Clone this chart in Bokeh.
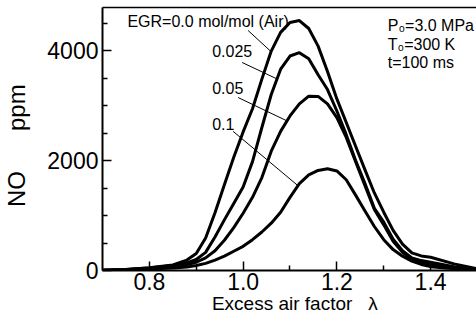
import numpy as np
from bokeh.plotting import figure
from bokeh.models import Range1d, LinearAxis, FixedTicker
from bokeh.core.properties import value
from bokeh.embed import file_html
from bokeh.resources import INLINE

# ---- data ----
lam = [0.70, 0.75, 0.80, 0.85, 0.88, 0.90, 0.92, 0.94, 0.96, 0.98,
       1.00, 1.02, 1.04, 1.06, 1.08, 1.10, 1.12, 1.14, 1.16, 1.18,
       1.20, 1.22, 1.24, 1.26, 1.28, 1.30, 1.32, 1.34, 1.36, 1.38,
       1.40, 1.45, 1.50]
no_egr0 = [5, 20, 50, 100, 190, 310, 590, 1050, 1560, 2060,
           2520, 2940, 3480, 3990, 4330, 4510, 4545, 4400, 4080, 3620,
           3120, 2690, 2260, 1830, 1410, 1060, 730, 480, 320, 265,
           240, 120, 30]
no_egr025 = [5, 20, 45, 90, 140, 200, 330, 610, 920, 1220,
             1520, 1980, 2600, 3200, 3660, 3900, 3960, 3850, 3560, 3290,
             2900, 2470, 2000, 1580, 1130, 880, 570, 360, 230, 180,
             150, 70, 15]
no_egr05 = [5, 15, 40, 75, 110, 150, 230, 360, 550, 780,
            1040, 1330, 1690, 2170, 2530, 2810, 3030, 3170, 3165, 3030,
            2780, 2420, 1980, 1540, 1110, 830, 530, 330, 200, 140,
            100, 50, 8]
no_egr1 = [5, 10, 25, 45, 65, 90, 130, 190, 260, 350,
           440, 560, 700, 860, 1060, 1330, 1580, 1740, 1820, 1850,
           1810, 1650, 1370, 1080, 800, 560, 380, 260, 170, 110,
           70, 30, 5]
series = [no_egr0, no_egr025, no_egr05, no_egr1]
series_labels = ["EGR=0.0 mol/mol (Air)", "0.025", "0.05", "0.1"]
x_ticks = [0.8, 1.0, 1.2, 1.4]
x_tick_labels = ["0.8", "1.0", "1.2", "1.4"]
x_minor = [0.9, 1.1, 1.3]
y_ticks = [0, 2000, 4000]
y_tick_labels = ["0", "2000", "4000"]
y_minor = [500, 1000, 1500, 2500, 3000, 3500, 4500]
conditions = ["P\u2080=3.0 MPa", "T\u2080=300 K", "t=100 ms"]

FONT = "Liberation Sans"

p = figure(width=476, height=322, output_backend="svg", toolbar_location=None,
           x_range=Range1d(0.7, 1.4979), y_range=Range1d(0, 4782),
           min_border_left=101, min_border_right=0, min_border_top=7,
           min_border_bottom=52, background_fill_color="white",
           border_fill_color="white", outline_line_color=None)
p.xgrid.grid_line_color = None
p.ygrid.grid_line_color = None

for ax in (p.xaxis[0], p.yaxis[0]):
    ax.axis_line_width = 2
    ax.axis_line_color = "black"
    ax.major_tick_in = 9
    ax.major_tick_out = 0
    ax.minor_tick_in = 5
    ax.minor_tick_out = 0
    ax.major_tick_line_width = 1.5
    ax.minor_tick_line_width = 1.5
    ax.major_tick_line_color = "black"
    ax.minor_tick_line_color = "black"
    ax.major_label_text_font = FONT
    ax.major_label_text_font_size = "23px"
    ax.major_label_text_color = "black"
    ax.axis_label_text_font = FONT
    ax.axis_label_text_font_style = "normal"
    ax.axis_label_text_color = "black"

p.xaxis.ticker = FixedTicker(ticks=x_ticks, minor_ticks=x_minor)
p.xaxis.major_label_overrides = {t: s for t, s in zip(x_ticks, x_tick_labels)}
p.yaxis.ticker = FixedTicker(ticks=y_ticks, minor_ticks=y_minor)
p.yaxis.major_label_overrides = {t: s for t, s in zip(y_ticks, y_tick_labels)}
p.xaxis.major_label_standoff = 2
p.xaxis.axis_label = "\u00a0\u00a0Excess air factor\u00a0\u00a0\u00a0\u03bb"
p.xaxis.axis_label_text_font_size = "19px"
p.xaxis.axis_label_standoff = 0
p.yaxis.major_label_standoff = 4
p.yaxis.axis_label = "NO" + "\u00a0" * 6 + "ppm" + "\u00a0\u00a0"
p.yaxis.axis_label_text_font_size = "24px"
p.yaxis.axis_label_standoff = 14

top = LinearAxis(ticker=FixedTicker(ticks=[]), axis_line_width=1.5,
                 major_label_text_font_size="0px", major_tick_line_color=None,
                 minor_tick_line_color=None)
p.add_layout(top, "above")

for s in series:
    p.line(lam, s, line_width=3, line_color="black", line_join="round")

# leader lines from labels to the curves
lead_start_x = [1.0106, 0.9979, 0.9894, 0.9787]
lead_start_y = [4364, 3782, 3145, 2530]
lead_end_x = [1.0596, 1.0723, 1.0936, 1.117]
lead_end_y = [float(np.interp(xe, lam, s)) for xe, s in zip(lead_end_x, series)]
p.segment(lead_start_x, lead_start_y, lead_end_x, lead_end_y,
          line_width=1, line_color="black")

p.text(x=[0.7532, 0.934, 0.934, 0.934], y=[4527, 3982, 3318, 2655],
       text=series_labels, text_font=value(FONT), text_font_size="16px",
       text_align="left", text_baseline="middle", text_color="black")

p.text(x=[1.3085] * 3, y=[4455, 4118, 3791], text=conditions,
       text_font=value(FONT), text_font_size="16px",
       text_align="left", text_baseline="middle", text_color="black")

open("out.html", "w").write(file_html(p, INLINE))
